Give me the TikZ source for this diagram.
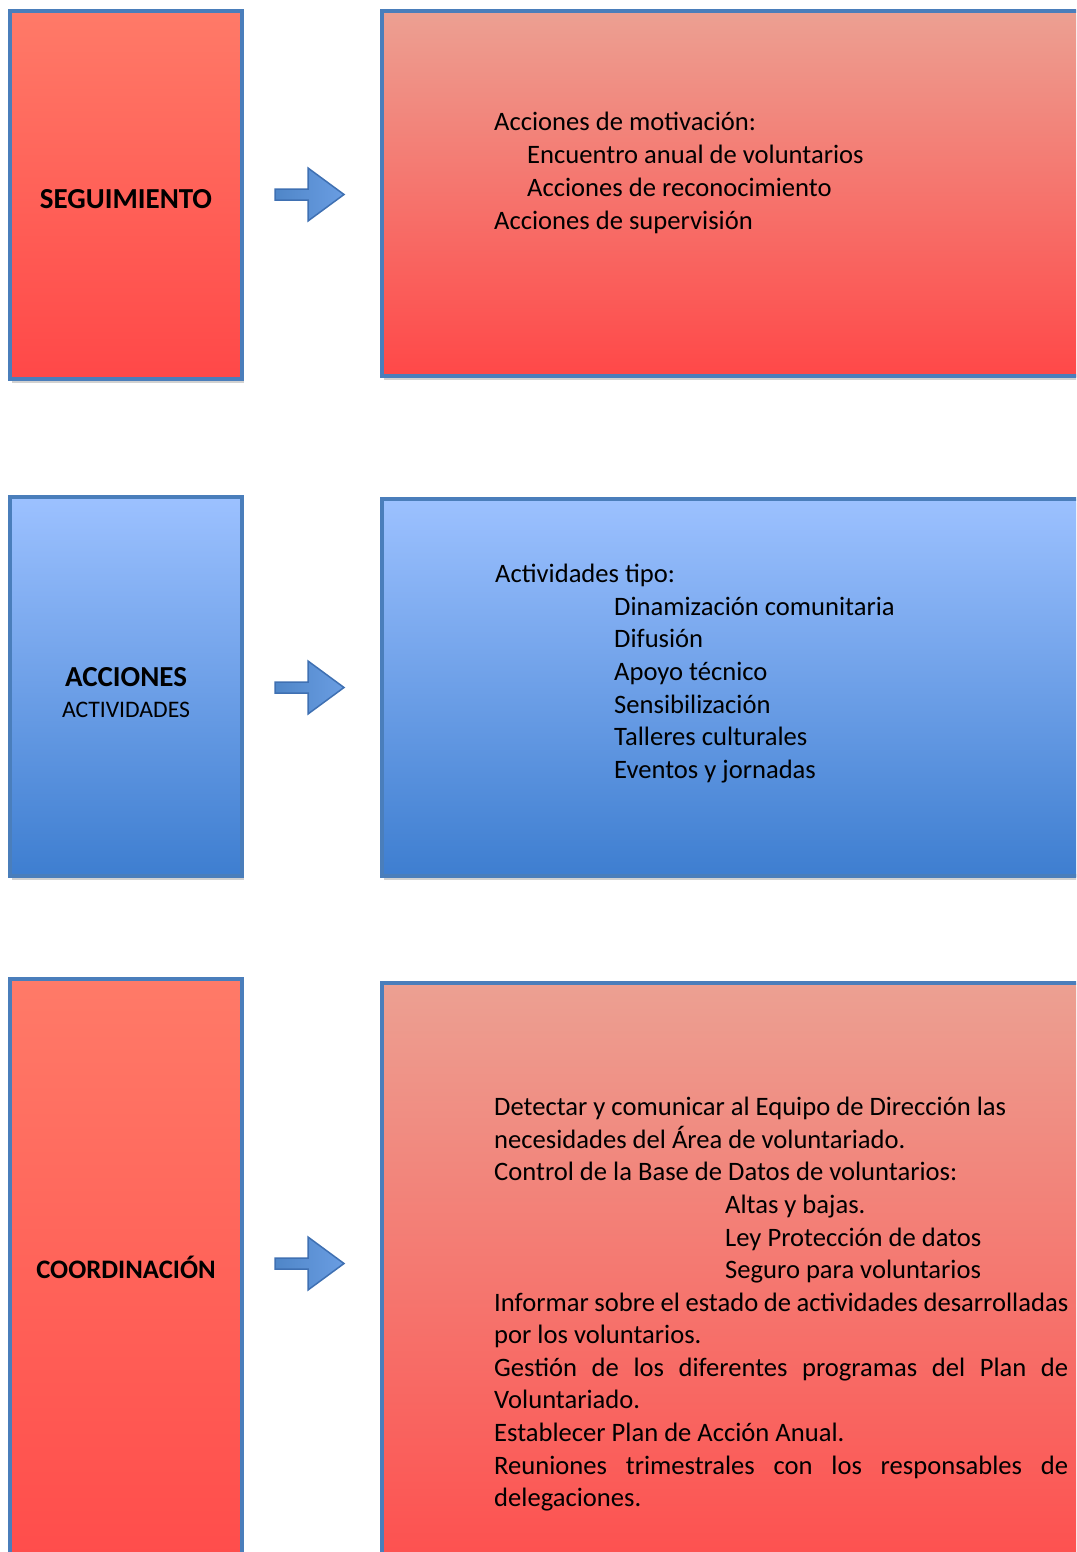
\documentclass[tikz,border=0pt]{standalone}
\usepackage{fontspec}
\setmainfont{Carlito}
\usetikzlibrary{shadows}
\definecolor{edge}{HTML}{4A7EBB}
\definecolor{redtopL}{HTML}{FF7A68}
\definecolor{redtopR}{HTML}{ECA092}
\definecolor{redbot}{HTML}{FF4848}
\definecolor{bluetop}{HTML}{9CC1FF}
\definecolor{bluebot}{HTML}{3E7ED0}
\definecolor{arrfill}{HTML}{4F86C8}
\definecolor{arrlight}{HTML}{6A9DE2}
\definecolor{arredge}{HTML}{3F70B2}
\tikzset{
  panel/.style={draw=edge, line width=3.5pt, anchor=north west, inner sep=0pt, outer sep=0pt,
    drop shadow={shadow xshift=2pt, shadow yshift=-4pt, opacity=.18, fill=black}},
  redL/.style={panel, top color=redtopL, bottom color=redbot},
  redR/.style={panel, top color=redtopR, bottom color=redbot},
  blueP/.style={panel, top color=bluetop, bottom color=bluebot},
  title/.style={anchor=base, font=\bfseries\fontsize{29}{34}\selectfont},
  sub/.style={anchor=base, font=\fontsize{23.7}{28}\selectfont},
  body/.style={anchor=base west, inner sep=0pt, font=\fontsize{26.6}{32.6}\selectfont},
  blockarrow/.style={draw=arredge, line width=1.5pt, left color=arrfill, right color=arrlight}
}
\begin{document}
\begin{tikzpicture}[x=1pt, y=-1pt]
\useasboundingbox (0,0) rectangle (1076,1552);
\clip (0,0) rectangle (1076,1552);
% ---------- Row 1 ----------
\node[redL, minimum width=232pt, minimum height=368pt] (segL) at (10,11) {};
\node[redR, minimum width=720pt, minimum height=365pt] (segR) at (382,11) {};
\node[title] (segT) at (126,208) {SEGUIMIENTO};
\node[body] (s1) at (494,131) {Acciones de motivación:};
\node[body] (s2) at (527,164) {Encuentro anual de voluntarios};
\node[body] (s3) at (527,196) {Acciones de reconocimiento};
\node[body] (s4) at (494,229) {Acciones de supervisión};
\path[blockarrow] (275,189) -- (308,189) -- (308,168) -- (344,194.5) -- (308,221) -- (308,200) -- (275,200) -- cycle;
% ---------- Row 2 ----------
\node[blueP, minimum width=232pt, minimum height=379pt] (accL) at (10,497) {};
\node[blueP, minimum width=720pt, minimum height=377pt] (accR) at (382,499) {};
\node[title] (accT) at (126,686) {ACCIONES};
\node[sub] (accS) at (126,717) {ACTIVIDADES};
\node[body] (a0) at (495,582) {Actividades tipo:};
\node[body] (a1) at (614,615) {Dinamización comunitaria};
\node[body] (a2) at (614,647) {Difusión};
\node[body] (a3) at (614,680) {Apoyo técnico};
\node[body] (a4) at (614,713) {Sensibilización};
\node[body] (a5) at (614,745) {Talleres culturales};
\node[body] (a6) at (614,778) {Eventos y jornadas};
\path[blockarrow] (275,682) -- (308,682) -- (308,661) -- (344,687.5) -- (308,714) -- (308,693) -- (275,693) -- cycle;
% ---------- Row 3 ----------
\node[redL, minimum width=232pt, minimum height=640pt] (coL) at (10,979) {};
\node[redR, minimum width=720pt, minimum height=640pt] (coR) at (382,983) {};
\node[title, font=\bfseries\fontsize{26.7}{32}\selectfont] (coT) at (126,1278) {COORDINACIÓN};
\node[body] (c1) at (494,1115) {Detectar y comunicar al Equipo de Dirección las};
\node[body] (c2) at (494,1148) {necesidades del Área de voluntariado.};
\node[body] (c3) at (494,1180) {Control de la Base de Datos de voluntarios:};
\node[body] (c4) at (725,1213) {Altas y bajas.};
\node[body] (c5) at (725,1246) {Ley Protección de datos};
\node[body] (c6) at (725,1278) {Seguro para voluntarios};
\node[body] (c7) at (494,1311) {\makebox[574pt][s]{Informar sobre el estado de actividades desarrolladas}};
\node[body] (c8) at (494,1343) {por los voluntarios.};
\node[body] (c9) at (494,1376) {\makebox[574pt][s]{Gestión de los diferentes programas del Plan de}};
\node[body] (c10) at (494,1408) {Voluntariado.};
\node[body] (c11) at (494,1441) {Establecer Plan de Acción Anual.};
\node[body] (c12) at (494,1474) {\makebox[574pt][s]{Reuniones trimestrales con los responsables de}};
\node[body] (c13) at (494,1506) {delegaciones.};
\path[blockarrow] (275,1258) -- (308,1258) -- (308,1237) -- (344,1263.5) -- (308,1290) -- (308,1269) -- (275,1269) -- cycle;
\end{tikzpicture}
\end{document}
